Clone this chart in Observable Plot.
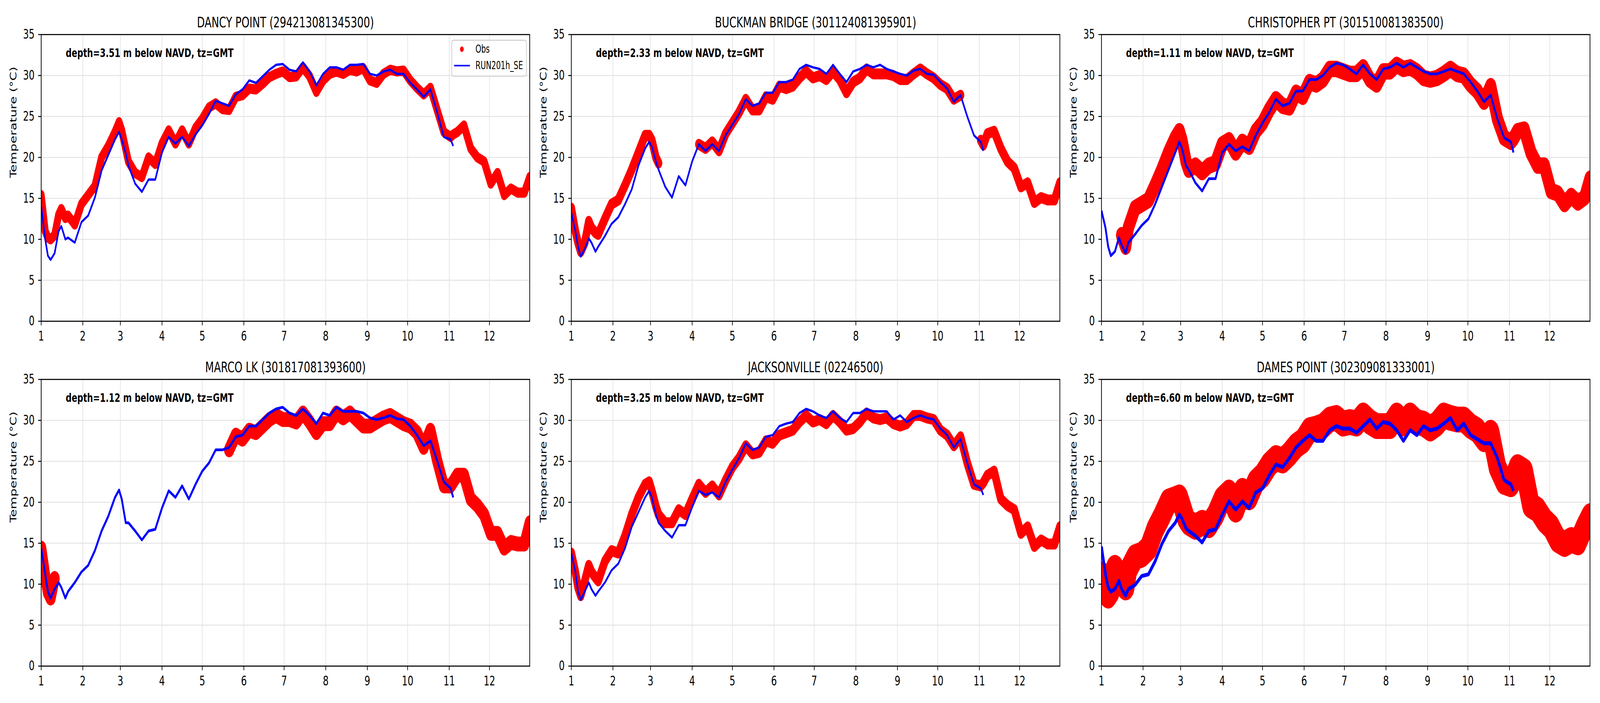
<!DOCTYPE html>
<html>
<head>
<meta charset="utf-8">
<script src="https://cdn.jsdelivr.net/npm/d3@7"></script>
<script src="https://cdn.jsdelivr.net/npm/@observablehq/plot@0.6"></script>
<style>
  html, body { margin: 0; padding: 0; background: #ffffff; overflow: hidden; }
  #fig { position: absolute; left: 0; top: 0; width: 6000px; height: 1800px; overflow: hidden; background: #ffffff;
         font-family: "DejaVu Sans", sans-serif; transform-origin: 0 0; }
  #fig > div { position: absolute; }
  #fig svg { max-width: none; display: block; }
</style>
</head>
<body>
<div id="fig"></div>
<script>
// ---- day-of-year sample grid (days after Jan 1) ----
const days = [
  0, 3, 5, 7, 10, 13, 15, 18, 20,
  25, 30, 35, 40, 45, 50, 55, 58, 60, 63, 65,
  70, 75, 80, 85, 90, 95, 100, 105, 110, 115,
  120, 125, 130, 135, 140, 145, 150, 155, 160, 165,
  170, 175, 180, 185, 190, 195, 200, 205, 210, 215,
  220, 225, 230, 235, 240, 245, 250, 255, 260, 265,
  270, 275, 280, 285, 290, 295, 300, 305, 307,
  310, 315, 320, 325, 330, 335, 340, 345, 350, 355, 360, 364
];

// ---- tick labels ----
const monthTicks = [1, 2, 3, 4, 5, 6, 7, 8, 9, 10, 11, 12];
const tempTicks = [0, 5, 10, 15, 20, 25, 30, 35];

// ---- panel texts ----
const stationTitles = [
  "DANCY POINT (294213081345300)",
  "BUCKMAN BRIDGE (301124081395901)",
  "CHRISTOPHER PT (301510081383500)",
  "MARCO LK (301817081393600)",
  "JACKSONVILLE (02246500)",
  "DAMES POINT (302309081333001)"
];
const depthNotes = [
  "depth=3.51 m below NAVD, tz=GMT",
  "depth=2.33 m below NAVD, tz=GMT",
  "depth=1.11 m below NAVD, tz=GMT",
  "depth=1.12 m below NAVD, tz=GMT",
  "depth=3.25 m below NAVD, tz=GMT",
  "depth=6.60 m below NAVD, tz=GMT"
];
const legendLabels = ["Obs", "RUN201h_SE"];

// ---- series values (°C) on the day grid ----
const dancyObs = [
  15.4, 11.0, 10.2, 10.0, 10.5, 13.0, 13.7, 12.6, 12.9,
  11.8, 14.3, 15.4, 16.5, 20.0, 21.4, 23.1, 24.3, 23.3, 21.0, 19.5,
  18.1, 17.6, 20.0, 19.2, 21.7, 23.3, 21.7, 23.3, 21.7, 23.6,
  24.7, 26.1, 26.6, 25.9, 25.8, 27.4, 27.6, 28.4, 28.3, 29.0,
  29.8, 30.2, 30.5, 29.8, 29.9, 31.0, 29.9, 28.0, 29.4, 30.2,
  30.5, 30.2, 30.7, 30.5, 30.9, 29.4, 29.1, 30.2, 30.7, 30.5,
  30.6, 29.4, 28.5, 27.7, 28.5, 25.8, 23.1, 22.5, 22.8,
  23.1, 23.9, 21.1, 20.0, 19.5, 16.8, 18.1, 15.4, 16.2, 15.7, 15.7, 17.6
];
const dancyMod = [
  14.0, 10.0, 8.0, 7.5, 8.3, 11.0, 11.6, 10.0, 10.2,
  9.6, 12.1, 12.9, 15.1, 18.4, 20.3, 22.2, 23.1, 22.2, 20.5, 19.0,
  16.8, 15.8, 17.3, 17.3, 20.6, 22.5, 21.7, 22.5, 21.4, 22.8,
  23.9, 25.3, 26.9, 26.6, 26.3, 27.7, 28.3, 29.4, 29.1, 29.9,
  30.7, 31.3, 31.4, 30.7, 30.5, 31.6, 30.5, 28.8, 30.2, 31.0,
  31.0, 30.7, 31.3, 31.3, 31.4, 30.2, 30.0, 30.5, 30.7, 30.2,
  30.2, 29.1, 28.3, 27.4, 28.3, 25.5, 22.5, 22.2, 21.4,
  null, null, null, null, null, null, null, null, null, null, null, null
];
const buckmanObs = [
  13.8, 11.0, 9.6, 8.5, 9.6, 12.2, 11.4, 10.8, 10.6,
  12.5, 14.3, 14.8, 16.6, 18.5, 20.6, 22.7, 22.7, 22.1, 20.0, 19.3,
  null, null, null, null, null, 21.6, 21.1, 21.9, 20.8, 22.9,
  24.2, 25.5, 27.1, 25.8, 25.8, 27.4, 27.1, 28.7, 28.4, 28.7,
  29.7, 30.5, 29.7, 30.0, 29.5, 30.5, 29.5, 27.9, 29.2, 29.7,
  30.8, 30.2, 30.2, 30.2, 30.0, 29.5, 29.5, 30.2, 30.8, 30.2,
  29.7, 28.9, 28.4, 27.1, 27.6, null, null, 22.1, 21.5,
  22.9, 23.2, 21.1, 19.5, 18.7, 16.4, 16.9, 14.5, 15.1, 14.8, 14.8, 16.9
];
const buckmanMod = [
  13.2, 11.0, 9.1, 7.9, 8.8, 10.1, 9.6, 8.5, 9.1,
  10.4, 11.9, 12.7, 14.3, 16.1, 19.0, 21.1, 21.9, 21.3, 19.5, 18.5,
  16.4, 15.1, 17.7, 16.6, 19.5, 21.6, 20.8, 21.6, 20.8, 22.7,
  24.0, 25.3, 27.1, 26.3, 26.6, 27.9, 27.9, 29.2, 29.2, 29.5,
  30.8, 31.3, 31.0, 30.8, 30.2, 31.3, 30.2, 29.2, 30.5, 30.8,
  31.3, 31.0, 31.3, 30.8, 30.5, 30.2, 30.0, 30.6, 30.8, 30.2,
  30.1, 29.2, 28.4, 26.8, 27.6, 25.0, 22.7, 21.9, 20.8,
  null, null, null, null, null, null, null, null, null, null, null, null
];
const christopherObs = [
  null, null, null, null, null, null, 10.5, 9.1, 11.4,
  13.8, 14.3, 14.8, 16.6, 18.5, 20.6, 22.4, 23.2, 22.1, 19.5, 18.5,
  19.0, 18.2, 19.0, 19.3, 21.6, 22.1, 20.6, 21.9, 21.3, 23.2,
  24.2, 25.8, 27.1, 26.3, 26.1, 27.9, 27.4, 29.2, 28.9, 29.5,
  30.8, 30.8, 30.5, 30.2, 30.2, 31.0, 29.5, 28.9, 30.5, 30.5,
  31.3, 30.8, 31.0, 30.5, 29.7, 29.5, 29.7, 30.2, 30.8, 30.2,
  30.0, 28.9, 28.1, 26.8, 28.7, 24.7, 22.4, 21.9, 22.3,
  23.2, 23.4, 20.6, 19.0, 19.0, 15.9, 15.6, 14.3, 15.3, 14.5, 15.1, 17.4
];
const christopherMod = [
  13.5, 11.4, 9.1, 8.0, 8.5, 10.2, 9.3, 8.3, 9.6,
  10.6, 11.7, 12.5, 14.3, 16.4, 18.5, 20.6, 21.9, 21.1, 19.0, 18.5,
  16.9, 15.9, 17.4, 17.4, 20.6, 21.6, 20.8, 21.3, 20.8, 22.7,
  24.2, 25.5, 27.1, 26.3, 26.6, 28.1, 28.1, 29.5, 29.5, 30.0,
  31.0, 31.5, 31.3, 30.8, 30.2, 31.3, 30.2, 29.5, 30.8, 31.0,
  31.5, 31.0, 31.5, 31.0, 30.5, 30.2, 30.2, 30.5, 30.8, 30.5,
  30.2, 29.2, 28.1, 26.8, 27.6, 24.7, 22.4, 21.9, 20.6,
  null, null, null, null, null, null, null, null, null, null, null, null
];
const marcoObs = [
  14.4, 11.0, 9.0, 8.3, 10.7, null, null, null, null,
  null, null, null, null, null, null, null, null, null, null, null,
  null, null, null, null, null, null, null, null, null, null,
  null, null, null, null, 26.4, 28.2, 27.7, 28.8, 28.5, 29.3,
  30.1, 30.6, 30.1, 30.1, 29.8, 30.9, 29.8, 28.5, 29.6, 29.6,
  30.9, 30.3, 30.9, 30.1, 29.3, 29.3, 29.8, 30.3, 30.6, 30.1,
  29.6, 29.3, 28.5, 26.7, 28.8, 25.1, 22.0, 22.0, 22.5,
  23.3, 23.3, 20.4, 19.6, 18.5, 16.2, 16.2, 14.4, 15.1, 14.9, 14.9, 17.5
];
const marcoMod = [
  14.4, 11.2, 9.1, 8.3, 9.4, 10.2, 9.6, 8.3, 9.1,
  10.2, 11.5, 12.3, 14.1, 16.5, 18.3, 20.6, 21.5, 20.4, 17.5, 17.5,
  16.5, 15.4, 16.5, 16.7, 19.3, 21.4, 20.6, 22.0, 20.4, 22.2,
  23.8, 24.8, 26.4, 26.4, 26.7, 28.0, 28.2, 29.3, 29.3, 30.1,
  30.9, 31.4, 31.6, 30.9, 30.6, 31.4, 30.6, 29.6, 30.9, 30.6,
  31.6, 31.1, 31.1, 31.1, 30.9, 30.3, 30.1, 30.3, 30.6, 30.2,
  30.1, 29.3, 28.2, 26.9, 27.5, 25.1, 22.5, 21.7, 20.6,
  null, null, null, null, null, null, null, null, null, null, null, null
];
const jaxObs = [
  13.8, 11.5, 9.6, 8.6, 10.4, 12.3, 11.5, 10.8, 10.4,
  12.8, 14.1, 13.8, 15.9, 18.5, 20.6, 22.2, 22.5, 21.4, 19.5, 18.5,
  17.5, 17.5, 19.1, 18.5, 20.4, 22.2, 21.2, 22.0, 20.9, 22.7,
  24.3, 25.4, 26.9, 25.9, 26.1, 27.5, 27.2, 28.2, 28.5, 28.8,
  29.8, 30.6, 29.8, 30.1, 29.6, 30.6, 29.8, 28.8, 29.0, 29.8,
  30.9, 30.3, 30.1, 30.3, 29.6, 29.3, 29.6, 30.6, 30.6, 30.3,
  30.1, 28.8, 28.2, 26.9, 28.0, 24.8, 22.2, 22.0, 22.4,
  23.3, 23.8, 20.4, 19.6, 19.1, 16.2, 17.0, 14.6, 15.4, 14.9, 14.9, 17.0
];
const jaxMod = [
  13.8, 11.5, 9.1, 8.1, 9.1, 10.2, 9.4, 8.6, 9.1,
  10.2, 11.7, 12.5, 14.4, 17.0, 18.8, 20.6, 21.4, 20.6, 18.5, 17.5,
  16.5, 15.7, 17.2, 17.2, 19.4, 21.4, 20.9, 21.2, 20.6, 22.5,
  24.0, 25.4, 27.2, 26.4, 26.7, 28.0, 28.2, 29.3, 29.6, 29.8,
  30.9, 31.4, 31.1, 30.6, 30.3, 31.1, 30.3, 29.8, 30.9, 30.9,
  31.4, 31.1, 31.1, 31.1, 30.1, 30.6, 29.8, 30.3, 30.6, 30.3,
  30.1, 29.0, 28.2, 26.7, 27.7, 24.8, 22.2, 21.7, 20.9,
  null, null, null, null, null, null, null, null, null, null, null, null
];
const damesObs = [
  11.2, 9.1, 8.6, 9.1, 12.0, 11.0, 10.2, 9.6, 11.7,
  13.3, 13.6, 14.4, 16.7, 18.3, 20.1, 20.4, 20.6, 19.6, 18.0, 17.5,
  17.0, 17.5, 17.2, 18.5, 20.4, 21.2, 19.1, 21.4, 20.6, 22.5,
  23.3, 24.6, 25.4, 25.1, 25.9, 26.9, 27.5, 28.8, 29.0, 29.3,
  30.1, 30.3, 29.6, 29.8, 29.6, 30.6, 29.8, 29.3, 29.3, 29.3,
  30.6, 29.6, 30.6, 29.8, 29.6, 29.0, 29.6, 30.6, 30.3, 30.1,
  30.1, 29.3, 28.8, 27.7, 28.5, 24.3, 22.5, 22.2, 23.0,
  24.3, 23.8, 19.6, 19.1, 17.8, 17.0, 15.4, 14.9, 15.4, 15.1, 17.0, 18.3
];
const damesMod = [
  14.6, 11.2, 9.6, 9.1, 9.4, 10.4, 9.4, 8.6, 9.4,
  9.9, 11.0, 11.2, 12.8, 14.9, 16.5, 17.5, 18.5, 18.0, 16.8, 16.5,
  15.9, 15.1, 16.5, 16.7, 18.5, 20.1, 19.1, 20.1, 19.3, 21.2,
  21.7, 23.3, 24.6, 24.3, 25.4, 26.7, 27.5, 28.2, 27.5, 27.5,
  28.8, 29.3, 29.0, 29.0, 28.5, 29.3, 30.1, 29.0, 29.8, 29.6,
  28.8, 27.5, 28.8, 28.2, 29.3, 28.8, 29.0, 29.6, 30.3, 28.8,
  29.6, 28.2, 27.7, 27.2, 27.2, 25.4, 22.7, 22.2, 21.4,
  null, null, null, null, null, null, null, null, null, null, null, null
];

const obsSeries = [dancyObs, buckmanObs, christopherObs, marcoObs, jaxObs, damesObs];
const modSeries = [dancyMod, buckmanMod, christopherMod, marcoMod, jaxMod, damesMod];

// ---- styling (not data) ----
const YEAR = 2023;
const obsWidth = [26, 28, 42, 38, 28, 66];
const modWidth = [6, 6, 7, 7, 6, 10];
const colLeft = [0, 1988, 3976];
const rowTop = [0, 883];
const FONT = "DejaVu Sans";

const toDate = d => new Date(Date.UTC(YEAR, 0, 1) + d * 86400000);
const monthDates = monthTicks.map(m => new Date(Date.UTC(YEAR, m - 1, 1)));
const asRows = vals => days.map((d, i) => ({date: toDate(d), t: vals[i]}));

const fig = document.getElementById("fig");

for (let i = 0; i < 6; i++) {
  const col = i % 3, row = Math.floor(i / 3);
  const marginLeft = 154, plotW = 1832, marginRight = 2;
  const width = marginLeft + plotW + marginRight;
  const marginTop = 88, plotH = 734, marginBottom = 60;
  const height = marginTop + plotH + marginBottom;

  const svg = Plot.plot({
    width, height,
    marginLeft, marginRight, marginTop, marginBottom,
    style: {fontFamily: FONT, background: "transparent", color: "black", overflow: "visible"},
    x: {type: "utc", domain: [toDate(0), toDate(364)]},
    y: {domain: [0, 35]},
    marks: [
      Plot.gridX(monthDates, {stroke: "#e6e6e6", strokeOpacity: 1, strokeWidth: 2.7}),
      Plot.gridY(tempTicks, {stroke: "#e6e6e6", strokeOpacity: 1, strokeWidth: 2.7}),
      Plot.line(asRows(obsSeries[i]), {x: "date", y: "t", stroke: "#ff0000", strokeWidth: obsWidth[i],
        strokeLinejoin: "round", strokeLinecap: "round", clip: true}),
      Plot.line(asRows(modSeries[i]), {x: "date", y: "t", stroke: "#0000ff", strokeWidth: modWidth[i],
        strokeLinejoin: "round", strokeLinecap: "butt", clip: true}),
      Plot.frame({stroke: "black", strokeWidth: 2.7}),
      Plot.axisX(monthDates, {tickSize: 11, tickPadding: 14, fontSize: 34, strokeWidth: 2.5,
        tickFormat: d => String(d.getUTCMonth() + 1), label: null}),
      Plot.axisY(tempTicks, {tickSize: 11, tickPadding: 14, fontSize: 34, strokeWidth: 2.5,
        tickFormat: d => String(d), label: null}),
      Plot.text(["Temperature (°C)"], {text: d => d, frameAnchor: "left", rotate: -90, dx: -93,
        lineAnchor: "bottom", fontSize: 33, fill: "black"}),
      Plot.text([stationTitles[i]], {text: d => d, frameAnchor: "top", dy: -19,
        lineAnchor: "bottom", fontSize: 38, fill: "black"}),
      Plot.text([depthNotes[i]], {text: d => d, frameAnchor: "top-left", dx: 92, dy: 57,
        lineAnchor: "bottom", textAnchor: "start", fontSize: 31, fontWeight: "bold", fill: "black"})
    ]
  });

  if (i === 0) {
    const s = d3.select(svg);
    const g = s.append("g").attr("font-family", FONT).attr("font-size", 27.5)
      .attr("fill", "black").attr("text-anchor", "start");
    g.append("rect").attr("x", 1694).attr("y", 103).attr("width", 280).attr("height", 92)
      .attr("rx", 7).attr("fill", "white").attr("fill-opacity", 0.85)
      .attr("stroke", "#cccccc").attr("stroke-width", 2.5);
    g.append("circle").attr("cx", 1732).attr("cy", 126).attr("r", 7).attr("fill", "#ff0000");
    g.append("line").attr("x1", 1703).attr("x2", 1762).attr("y1", 168).attr("y2", 168)
      .attr("stroke", "#0000ff").attr("stroke-width", 4.2);
    g.append("text").attr("x", 1783).attr("y", 135).attr("text-anchor", "start").text(legendLabels[0]);
    g.append("text").attr("x", 1783).attr("y", 177).attr("text-anchor", "start").text(legendLabels[1]);
  }

  const holder = document.createElement("div");
  holder.style.left = colLeft[col] + "px";
  holder.style.top = rowTop[row] + "px";
  holder.style.width = width + "px";
  holder.style.height = height + "px";
  holder.appendChild(svg);
  fig.appendChild(holder);
}

// The 6000x1800 figure is fitted to the actual window (which may be narrower than requested).
function fit() {
  const sx = window.innerWidth / 6000, sy = window.innerHeight / 1800;
  fig.style.transform = `scale(${sx}, ${sy})`;
}
fit();
window.addEventListener("resize", fit);
</script>
</body>
</html>
